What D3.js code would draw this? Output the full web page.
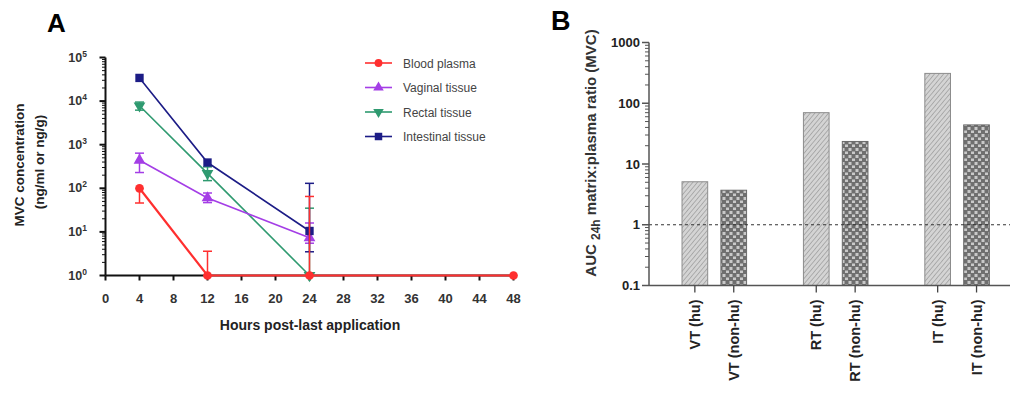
<!DOCTYPE html>
<html><head><meta charset="utf-8">
<script src="https://cdn.jsdelivr.net/npm/d3@7"></script>
<style>
body{margin:0;background:#fff;}
svg{display:block;font-family:"Liberation Sans",Arial,sans-serif;}
</style></head>
<body><svg id="c" width="1010" height="396"></svg>
<script>
// ---------- Panel A data ----------
const hours = [4, 12, 24, 48];
const xTicksA = [0,4,8,12,16,20,24,28,32,36,40,44,48];
const yTicksA = [1,10,100,1000,10000,100000];
const seriesNames = ["Blood plasma","Vaginal tissue","Rectal tissue","Intestinal tissue"];
const seriesColors = ["#ff2f2f","#a43ee6","#2f9a70","#1c1c86"];
const plasmaMean = [100, 1, 1, 1];
const plasmaLo   = [46, 1, 1, 1];
const plasmaHi   = [100, 3.6, 65, 1];
const vaginalMean = [440, 60, 7.3];
const vaginalLo   = [230, 47, 5.5];
const vaginalHi   = [640, 78, 16];
const rectalMean = [7800, 220, 1];
const rectalLo   = [6200, 150, 1];
const rectalHi   = [9500, 310, 35];
const intestMean = [34000, 390, 10.5];
const intestLo   = [34000, 390, 3.5];
const intestHi   = [34000, 390, 130];

// ---------- Panel B data ----------
const groups = ["VT","RT","IT"];
const subgroups = ["hu","non-hu"];
const ratioHu    = [5.1, 70, 310];
const ratioNonHu = [3.7, 23.5, 44];
const yTicksB = [0.1, 1, 10, 100, 1000];

const svg = d3.select("#c");
svg.append("rect").attr("width",1010).attr("height",396).attr("fill","#fff");
const defs = svg.append("defs");
const ph = defs.append("pattern").attr("id","hatch").attr("patternUnits","userSpaceOnUse")
  .attr("width",3.5).attr("height",3.5).attr("patternTransform","rotate(40)");
ph.append("rect").attr("width",3.5).attr("height",3.5).attr("fill","#d4d4d4");
ph.append("line").attr("x1",0).attr("y1",0).attr("x2",0).attr("y2",3.5).attr("stroke","#9a9a9a").attr("stroke-width",1.4);
const pc = defs.append("pattern").attr("id","check").attr("patternUnits","userSpaceOnUse")
  .attr("width",7).attr("height",7);
pc.append("rect").attr("width",7).attr("height",7).attr("fill","#6f6f6f");
pc.append("rect").attr("x",1.5).attr("y",1).attr("width",3).attr("height",3).attr("fill","#c9c9c9");
pc.append("rect").attr("x",5).attr("y",4.5).attr("width",3).attr("height",3).attr("fill","#c9c9c9");
pc.append("rect").attr("x",-2).attr("y",4.5).attr("width",3).attr("height",3).attr("fill","#c9c9c9");

// ================= Panel A =================
const xA = d3.scaleLinear().domain([0,48]).range([105.5,513.5]);
const yA = d3.scaleLog().domain([1,100000]).range([275.5,57.5]);
const gA = svg.append("g");

svg.append("text").attr("x",47).attr("y",32).attr("font-size",26).attr("font-weight","bold").text("A");

gA.append("line").attr("x1",xA(0)).attr("x2",xA(0)).attr("y1",yA(1)).attr("y2",yA(100000))
  .attr("stroke","#111").attr("stroke-width",2);
const minorA = [];
for (let e=0;e<5;e++) for (let m=2;m<=9;m++) minorA.push(m*Math.pow(10,e));
gA.selectAll(".mtA").data(minorA).join("line").attr("x1",xA(0)-3.5).attr("x2",xA(0))
  .attr("y1",d=>yA(d)).attr("y2",d=>yA(d)).attr("stroke","#111").attr("stroke-width",1);
gA.selectAll(".MtA").data(yTicksA).join("line").attr("x1",xA(0)-6).attr("x2",xA(0))
  .attr("y1",d=>yA(d)).attr("y2",d=>yA(d)).attr("stroke","#111").attr("stroke-width",2);
const ylab = gA.selectAll(".ylA").data(yTicksA).join("text")
  .attr("x",87).attr("y",d=>yA(d)+4).attr("text-anchor","end")
  .attr("font-size",12.5).attr("font-weight","bold").attr("fill","#333");
ylab.append("tspan").text("10");
ylab.append("tspan").attr("dy",-5).attr("font-size",8.5).text(d=>Math.round(Math.log10(d)));

gA.append("line").attr("x1",xA(0)).attr("x2",xA(48)).attr("y1",yA(1)).attr("y2",yA(1))
  .attr("stroke","#111").attr("stroke-width",2);
gA.selectAll(".xtA").data(xTicksA).join("line").attr("x1",d=>xA(d)).attr("x2",d=>xA(d))
  .attr("y1",yA(1)).attr("y2",yA(1)+5).attr("stroke","#111").attr("stroke-width",2);
gA.selectAll(".xlA").data(xTicksA).join("text").attr("x",d=>xA(d)).attr("y",yA(1)+27)
  .attr("text-anchor","middle").attr("font-size",13).attr("font-weight","bold").attr("fill","#333").text(d=>d);
gA.append("text").attr("x",310).attr("y",330).attr("text-anchor","middle")
  .attr("font-size",14).attr("font-weight","bold").attr("fill","#222").text("Hours post-last application");
gA.append("text").attr("transform","translate(24,165) rotate(-90)").attr("text-anchor","middle")
  .attr("font-size",13.5).attr("font-weight","bold").attr("fill","#222").text("MVC concentration");
gA.append("text").attr("transform","translate(44,162) rotate(-90)").attr("text-anchor","middle")
  .attr("font-size",13.5).attr("font-weight","bold").attr("fill","#222").text("(ng/ml or ng/g)");

const allSeries = [
  {mean:plasmaMean, lo:plasmaLo, hi:plasmaHi, sym:d3.symbolCircle, size:60},
  {mean:vaginalMean, lo:vaginalLo, hi:vaginalHi, sym:d3.symbolTriangle, size:60},
  {mean:rectalMean, lo:rectalLo, hi:rectalHi, sym:d3.symbolTriangle, size:60, flip:true},
  {mean:intestMean, lo:intestLo, hi:intestHi, sym:d3.symbolSquare, size:70}
];
const line = d3.line().x(d=>xA(d[0])).y(d=>yA(d[1]));
[2,1,3,0].forEach(i=>{
  const s = allSeries[i], col = seriesColors[i];
  const pts = s.mean.map((v,j)=>[hours[j],v,s.lo[j],s.hi[j]]);
  const g = gA.append("g");
  pts.forEach(p=>{
    const x = xA(p[0]);
    if (p[3] > p[2]) {
      g.append("line").attr("x1",x).attr("x2",x).attr("y1",yA(p[2])).attr("y2",yA(p[3])).attr("stroke",col).attr("stroke-width",1.5);
    }
    if (p[3] > p[1]) g.append("line").attr("x1",x-4.5).attr("x2",x+4.5).attr("y1",yA(p[3])).attr("y2",yA(p[3])).attr("stroke",col).attr("stroke-width",1.5);
    if (p[2] < p[1]) g.append("line").attr("x1",x-4.5).attr("x2",x+4.5).attr("y1",yA(p[2])).attr("y2",yA(p[2])).attr("stroke",col).attr("stroke-width",1.5);
  });
  g.append("path").datum(pts).attr("d",line).attr("fill","none").attr("stroke",col).attr("stroke-width",i===0?2.2:1.6);
  g.selectAll("path.m").data(pts).join("path").attr("class","m")
    .attr("transform",p=>`translate(${xA(p[0])},${yA(p[1])})${s.flip?" rotate(180)":""}`)
    .attr("d",d3.symbol().type(s.sym).size(s.size)).attr("fill",col);
});

const lg = gA.append("g");
seriesNames.forEach((n,i)=>{
  const y = 63 + i*24.5, s = allSeries[i], col = seriesColors[i];
  lg.append("line").attr("x1",365).attr("x2",392).attr("y1",y).attr("y2",y).attr("stroke",col).attr("stroke-width",1.6);
  lg.append("path").attr("transform",`translate(378.5,${y})${s.flip?" rotate(180)":""}`)
    .attr("d",d3.symbol().type(s.sym).size(s.size*0.8)).attr("fill",col);
  lg.append("text").attr("x",403).attr("y",y+4.5).attr("font-size",12).attr("fill","#444").text(n);
});

// ================= Panel B =================
const yB = d3.scaleLog().domain([0.1,1000]).range([285.5,42.5]);
const x0 = d3.scaleBand().domain(groups).range([653.6,1017.8]);
const x1 = d3.scaleBand().domain(subgroups).range([15.2,106.2]).padding(0.34);
const gB = svg.append("g");
svg.append("text").attr("x",551).attr("y",30).attr("font-size",27).attr("font-weight","bold").text("B");

const barData = [];
groups.forEach((g,i)=>{
  barData.push({g, s:"hu", v:ratioHu[i]});
  barData.push({g, s:"non-hu", v:ratioNonHu[i]});
});
gB.selectAll("rect.bar").data(barData).join("rect").attr("class","bar")
  .attr("x",d=>x0(d.g)+x1(d.s)).attr("width",x1.bandwidth())
  .attr("y",d=>yB(d.v)).attr("height",d=>yB(0.1)-yB(d.v))
  .attr("fill",d=>d.s==="hu"?"url(#hatch)":"url(#check)")
  .attr("stroke",d=>d.s==="hu"?"#8c8c8c":"#6a6a6a").attr("stroke-width",1);

gB.append("line").attr("x1",649).attr("x2",1010).attr("y1",yB(1)).attr("y2",yB(1))
  .attr("stroke","#333").attr("stroke-width",1).attr("stroke-dasharray","3,3");

gB.append("line").attr("x1",649).attr("x2",649).attr("y1",yB(0.1)).attr("y2",yB(1000)).attr("stroke","#555").attr("stroke-width",1.5);
gB.append("line").attr("x1",649).attr("x2",1010).attr("y1",yB(0.1)).attr("y2",yB(0.1)).attr("stroke","#555").attr("stroke-width",1.5);
const minorB = [];
for (let e=-1;e<3;e++) for (let m=2;m<=9;m++) minorB.push(m*Math.pow(10,e));
gB.selectAll(".mtB").data(minorB).join("line").attr("x1",645).attr("x2",649)
  .attr("y1",d=>yB(d)).attr("y2",d=>yB(d)).attr("stroke","#555").attr("stroke-width",1);
gB.selectAll(".MtB").data(yTicksB).join("line").attr("x1",642).attr("x2",649)
  .attr("y1",d=>yB(d)).attr("y2",d=>yB(d)).attr("stroke","#555").attr("stroke-width",1.5);
gB.selectAll(".ylB").data(yTicksB).join("text").attr("x",640).attr("y",d=>yB(d)+4.5)
  .attr("text-anchor","end").attr("font-size",13).attr("font-weight","bold").attr("fill","#222").text(d=>d);
gB.selectAll(".xtB").data(barData).join("line")
  .attr("x1",d=>x0(d.g)+x1(d.s)+x1.bandwidth()/2).attr("x2",d=>x0(d.g)+x1(d.s)+x1.bandwidth()/2)
  .attr("y1",yB(0.1)).attr("y2",yB(0.1)+7).attr("stroke","#444").attr("stroke-width",1.3);
gB.selectAll(".xlB").data(barData).join("text")
  .attr("transform",d=>`translate(${x0(d.g)+x1(d.s)+x1.bandwidth()/2+5},${yB(0.1)+14}) rotate(-90)`)
  .attr("text-anchor","end").attr("font-size",14.5).attr("font-weight","bold").attr("fill","#222")
  .text(d=>`${d.g} (${d.s})`);
const yt = gB.append("text").attr("transform","translate(596,153) rotate(-90)").attr("text-anchor","middle")
  .attr("font-size",15).attr("font-weight","bold").attr("fill","#333");
yt.append("tspan").text("AUC ");
yt.append("tspan").attr("dy",4).attr("font-size",12).text("24h");
yt.append("tspan").attr("dy",-4).text(" matrix:plasma ratio (MVC)");
</script></body></html>
